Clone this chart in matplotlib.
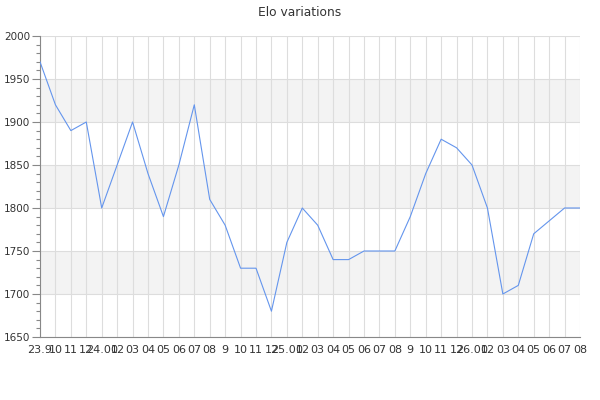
import matplotlib
matplotlib.use("Agg")
from matplotlib import pyplot as plt
from matplotlib.ticker import MultipleLocator

labels = ["23.9", "10", "11", "12",
          "24.01", "02", "03", "04", "05", "06", "07", "08", "9", "10", "11", "12",
          "25.01", "02", "03", "04", "05", "06", "07", "08", "9", "10", "11", "12",
          "26.01", "02", "03", "04", "05", "06", "07", "08"]
elo = [1970, 1920, 1890, 1900,
       1800, 1850, 1900, 1840, 1790, 1850, 1920, 1810, 1780, 1730, 1730, 1680,
       1760, 1800, 1780, 1740, 1740, 1750, 1750, 1750, 1790, 1840, 1880, 1870,
       1850, 1800, 1700, 1710, 1770, 1785, 1800, 1800]

x = list(range(len(elo)))

fig = plt.figure(figsize=(6, 4), dpi=100)
ax = fig.add_axes([40 / 600, 1 - 337 / 400, 540 / 600, 301 / 400])

# alternating grey bands
for lo in range(1700, 2000, 100):
    ax.axhspan(lo, lo + 50, color="#f3f3f3", zorder=0, lw=0)

ax.plot(x, elo, color="#6495ed", lw=0.8, zorder=3)

ax.set_xlim(0, len(elo) - 1)
ax.set_ylim(1650, 2000)
ax.set_xticks(x)
ax.set_xticklabels(labels)
ax.yaxis.set_major_locator(MultipleLocator(50))
ax.yaxis.set_minor_locator(MultipleLocator(10))

ax.grid(True, which="major", color="#dddddd", lw=0.8, zorder=1)
ax.set_axisbelow(True)

for s in ["top", "right"]:
    ax.spines[s].set_visible(False)
for s in ["left", "bottom"]:
    ax.spines[s].set_color("#888888")
    ax.spines[s].set_linewidth(0.8)

ax.tick_params(axis="x", length=0, labelsize=8, colors="#333333", pad=6)
ax.tick_params(axis="y", which="major", length=6, width=0.8, color="#888888",
               labelsize=7.5, labelcolor="#333333", pad=1)
ax.tick_params(axis="y", which="minor", length=3, width=0.8, color="#888888")

fig.text(0.5, 1 - 12 / 400, "Elo variations", ha="center", va="center",
         fontsize=8.8, color="#333333")

fig.savefig("out.png", dpi=100)
